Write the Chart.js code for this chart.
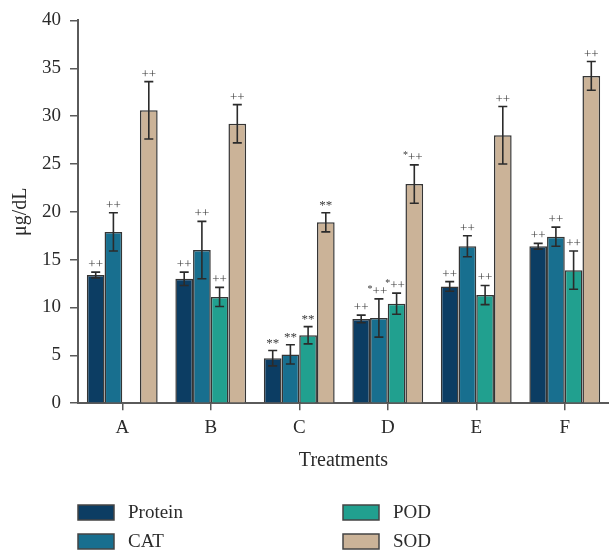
<!DOCTYPE html>
<html>
<head>
<meta charset="utf-8">
<script src="https://cdn.jsdelivr.net/npm/chart.js@4"></script>
<style>
  html, body { margin: 0; padding: 0; background: #fff; }
  #wrap { width: 609px; height: 552px; }
</style>
</head>
<body>
<div id="wrap"><canvas id="chart" width="609" height="552"></canvas></div>
<script>
// treatments on the x axis
const treatments = ['A', 'B', 'C', 'D', 'E', 'F'];

// means (µg/dL)
const protein = [13.4, 13.0, 4.7, 8.8, 12.2, 16.4];
const cat     = [17.9, 16.0, 5.1, 8.9, 16.4, 17.4];
const pod     = [null, 11.1, 7.1, 10.4, 11.3, 13.9];
const sod     = [30.6, 29.2, 18.9, 22.9, 28.0, 34.2];

// error bar half widths
const proteinErr = [0.3, 0.7, 0.8, 0.4, 0.5, 0.3];
const catErr     = [2.0, 3.0, 1.0, 2.0, 1.1, 1.0];
const podErr     = [null, 1.0, 0.9, 1.1, 1.0, 2.0];
const sodErr     = [3.0, 2.0, 1.0, 2.0, 3.0, 1.5];

// significance marks above each bar
const proteinSig = ['++', '++', '**', '++', '++', '++'];
const catSig     = ['++', '++', '**', '*++', '++', '++'];
const podSig     = ['', '++', '**', '*++', '++', '++'];
const sodSig     = ['++', '++', '**', '*++', '++', '++'];

const yTicks = [0, 5, 10, 15, 20, 25, 30, 35, 40];

const serif = '"Liberation Serif", "DejaVu Serif", serif';
const axisColor = '#5a5a5a';
const inkColor = '#2b2b2b';

// error bars + significance text
const errorBarPlugin = {
    id: 'errorBars',
    afterDatasetsDraw(chart) {
        const ctx = chart.ctx;
        const yScale = chart.scales.y;
        chart.data.datasets.forEach((ds, di) => {
            const meta = chart.getDatasetMeta(di);
            meta.data.forEach((bar, i) => {
                const v = ds.data[i];
                const e = ds.errors[i];
                if (v == null) return;
                const x = bar.x;
                const top = yScale.getPixelForValue(v + e);
                const bot = yScale.getPixelForValue(v - e);
                ctx.save();
                ctx.strokeStyle = inkColor;
                ctx.lineWidth = 1.6;
                ctx.beginPath();
                ctx.moveTo(x, top); ctx.lineTo(x, bot);
                ctx.moveTo(x - 4.5, top); ctx.lineTo(x + 4.5, top);
                ctx.moveTo(x - 4.5, bot); ctx.lineTo(x + 4.5, bot);
                ctx.stroke();
                const sig = ds.sig[i];
                if (sig) {
                    ctx.fillStyle = '#3a3a3a';
                    ctx.textBaseline = 'alphabetic';
                    if (sig.startsWith('*') && sig.length === 3) {
                        // raised star before the plus signs
                        ctx.font = '13px ' + serif;
                        ctx.textAlign = 'center';
                        ctx.fillText('++', x + 1, top - 4);
                        const w = ctx.measureText('++').width;
                        ctx.font = '10px ' + serif;
                        ctx.textAlign = 'right';
                        ctx.fillText('*', x + 1 - w / 2, top - 7);
                    } else {
                        ctx.font = '13px ' + serif;
                        ctx.textAlign = 'center';
                        ctx.fillText(sig, x, top - 4);
                    }
                }
                ctx.restore();
            });
        });
    }
};

// two column legend under the axis title
const legendPlugin = {
    id: 'twoColLegend',
    afterDraw(chart) {
        const ctx = chart.ctx;
        const order = [0, 2, 1, 3];
        const cols = [78, 343];
        const rows = [505, 534];
        order.forEach((di, k) => {
            const ds = chart.data.datasets[di];
            const bx = cols[k % 2];
            const by = rows[Math.floor(k / 2)];
            ctx.save();
            ctx.fillStyle = ds.backgroundColor;
            ctx.fillRect(bx, by, 36, 15);
            ctx.strokeStyle = '#444';
            ctx.lineWidth = 1.5;
            ctx.strokeRect(bx, by, 36, 15);
            ctx.fillStyle = inkColor;
            ctx.font = '19px ' + serif;
            ctx.textAlign = 'left';
            ctx.textBaseline = 'middle';
            ctx.fillText(ds.label, bx + 50, by + 8);
            ctx.restore();
        });
    }
};

function makeSet(label, data, errors, sig, color) {
    return {
        label: label,
        data: data,
        errors: errors,
        sig: sig,
        backgroundColor: color,
        borderColor: '#353535',
        borderWidth: 1.5,
        borderSkipped: 'bottom',
        categoryPercentage: 0.8,
        barPercentage: 1.0
    };
}

const ctx = document.getElementById('chart').getContext('2d');
new Chart(ctx, {
    type: 'bar',
    data: {
        labels: treatments,
        datasets: [
            makeSet('Protein', protein, proteinErr, proteinSig, '#0c3d63'),
            makeSet('CAT', cat, catErr, catSig, '#186f8f'),
            makeSet('POD', pod, podErr, podSig, '#21a08f'),
            makeSet('SOD', sod, sodErr, sodSig, '#cbb398')
        ]
    },
    options: {
        responsive: false,
        animation: false,
        layout: {
            padding: { top: 8, right: 0, bottom: 79, left: 9 }
        },
        plugins: {
            legend: { display: false },
            tooltip: { enabled: false }
        },
        scales: {
            x: {
                offset: true,
                grid: {
                    offset: false,
                    drawOnChartArea: false,
                    drawTicks: true,
                    tickLength: 7,
                    color: axisColor,
                    lineWidth: 1.5
                },
                border: { color: axisColor, width: 2 },
                ticks: {
                    color: inkColor,
                    font: { family: serif, size: 19 },
                    padding: 6
                },
                title: {
                    display: true,
                    text: 'Treatments',
                    color: inkColor,
                    font: { family: serif, size: 20 },
                    padding: { top: 4, bottom: 0 }
                }
            },
            y: {
                min: 0,
                max: 40,
                afterBuildTicks(axis) {
                    axis.ticks = yTicks.map(v => ({ value: v }));
                },
                grid: {
                    drawOnChartArea: false,
                    drawTicks: true,
                    tickLength: 8,
                    color: axisColor,
                    lineWidth: 1.5
                },
                border: { color: axisColor, width: 2 },
                ticks: {
                    color: inkColor,
                    font: { family: serif, size: 19 },
                    padding: 9
                },
                title: {
                    display: true,
                    text: 'μg/dL',
                    color: inkColor,
                    font: { family: serif, size: 20 },
                    padding: { top: 0, bottom: 0 }
                }
            }
        }
    },
    plugins: [errorBarPlugin, legendPlugin]
});
</script>
</body>
</html>
